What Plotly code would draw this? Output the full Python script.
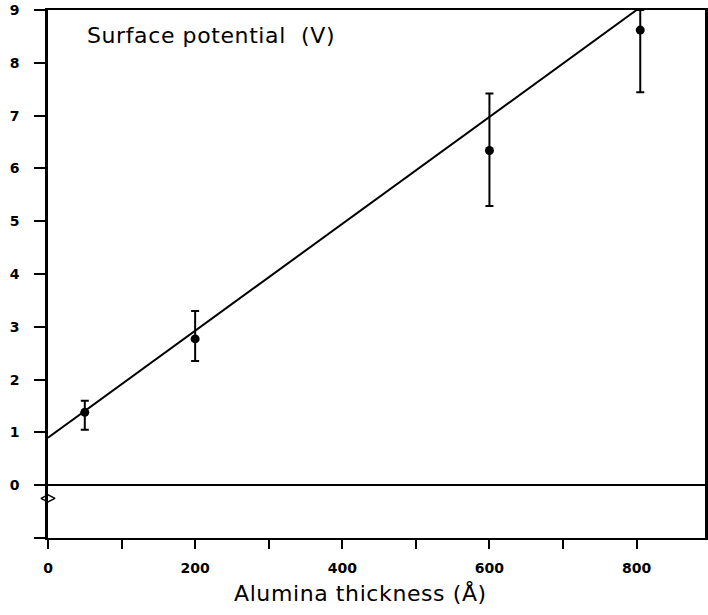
import plotly.graph_objects as go

# Data
thickness = [50, 200, 600, 805]
potential = [1.38, 2.77, 6.34, 8.62]
err_plus = [0.22, 0.53, 1.08, 0.38]
err_minus = [0.33, 0.42, 1.05, 1.18]

ref_x = [0]
ref_y = [-0.25]

fit_x = [0, 800]
fit_y = [0.9, 9.0]

x_tickvals = [0, 100, 200, 300, 400, 500, 600, 700, 800]
x_ticktext = ["0", "", "200", "", "400", "", "600", "", "800"]
y_tickvals = [-1, 0, 1, 2, 3, 4, 5, 6, 7, 8, 9]
y_ticktext = ["", "0", "1", "2", "3", "4", "5", "6", "7", "8", "9"]

fig = go.Figure()
fig.add_trace(go.Scatter(x=fit_x, y=fit_y, mode="lines",
                         line=dict(color="black", width=2), showlegend=False))
fig.add_trace(go.Scatter(x=thickness, y=potential, mode="markers",
                         marker=dict(color="black", size=9, symbol="circle"),
                         error_y=dict(type="data", symmetric=False, array=err_plus,
                                      arrayminus=err_minus, color="black",
                                      thickness=2, width=4),
                         showlegend=False, cliponaxis=False))
fig.add_trace(go.Scatter(x=ref_x, y=ref_y, mode="markers",
                         marker=dict(color="white", size=10, symbol="diamond-wide",
                                     line=dict(color="black", width=1.5)),
                         showlegend=False, cliponaxis=False))

tickfont = dict(size=14, family="DejaVu Sans, sans-serif", weight="bold")

fig.update_layout(
    width=708, height=615,
    margin=dict(l=48, r=3, t=10, b=77),
    paper_bgcolor="white", plot_bgcolor="white",
    font=dict(family="Liberation Sans, Arial, sans-serif", color="black"),
    xaxis=dict(range=[0, 893], tickvals=x_tickvals, ticktext=x_ticktext,
               ticks="outside", ticklen=9, tickwidth=2, tickcolor="black",
               showline=True, linecolor="black", linewidth=2, mirror=True,
               showgrid=False, zeroline=False, ticklabelstandoff=7,
               automargin=False, tickfont=tickfont),
    yaxis=dict(range=[-1, 9], tickvals=y_tickvals, ticktext=y_ticktext,
               ticks="outside", ticklen=11, tickwidth=2, tickcolor="black",
               showline=True, linecolor="black", linewidth=2.5, mirror=True,
               showgrid=False, zeroline=True, zerolinecolor="black", zerolinewidth=1.8,
               ticklabelstandoff=12, automargin=False, tickfont=tickfont),
    annotations=[
        dict(text="<span style='letter-spacing:0.6px'>Surface potential&nbsp; (V)</span>",
             xref="paper", yref="paper",
             x=(85 - 48) / 657, y=(538 - 35) / 528, xanchor="left", yanchor="middle",
             showarrow=False,
             font=dict(size=22, family="DejaVu Sans, sans-serif", color="black")),
        dict(text="<span style='letter-spacing:0.6px'>Alumina thickness (Å)</span>",
             xref="paper", yref="paper",
             x=(360 - 48) / 657, y=(538 - 593) / 528, xanchor="center", yanchor="middle",
             showarrow=False,
             font=dict(size=22, family="DejaVu Sans, sans-serif", color="black")),
    ],
)

fig.write_html("out.html", config={"displayModeBar": False},
               post_script="document.body.style.margin='0';document.body.style.overflow='hidden';")
